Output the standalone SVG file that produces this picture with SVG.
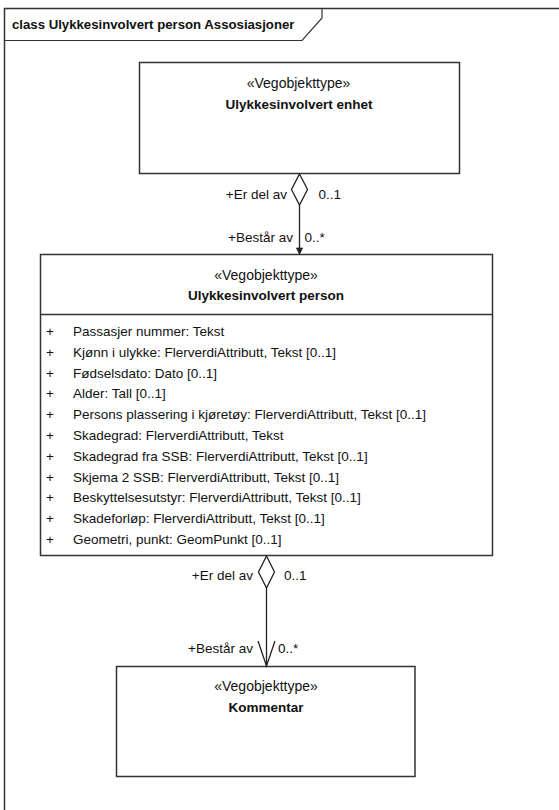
<svg xmlns="http://www.w3.org/2000/svg" width="559" height="810" viewBox="0 0 559 810">
<style>
text{font-family:"Liberation Sans",Arial,sans-serif;fill:#111}
.box{fill:#fff;stroke:#333;stroke-width:1.5}
.st{font-size:14px;text-anchor:middle}
.nm{font-size:13.5px;font-weight:bold;text-anchor:middle}
.at{font-size:13.5px}
.lbl{font-size:13.5px}
.end{text-anchor:end}
.ln{stroke:#222;stroke-width:1.3;fill:none}
.dia{fill:#fff;stroke:#222;stroke-width:1.3}
</style>
<rect width="559" height="810" fill="#fff"/>
<g id="frame">
<path d="M4.5 830 V8.5 H570" fill="none" stroke="#333" stroke-width="1.5"/>
<path d="M4.5 40.5 H302 L322 18 V8.5" fill="none" stroke="#333" stroke-width="1.2"/>
<text x="12" y="28.5" font-size="13.2" font-weight="bold">class Ulykkesinvolvert person Assosiasjoner</text>
</g>
<g id="node-enhet">
<rect class="box" x="139.5" y="62.5" width="320" height="111"/>
<text class="st" x="298.5" y="88">«Vegobjekttype»</text>
<text class="nm" x="299" y="108.5">Ulykkesinvolvert enhet</text>
</g>
<g id="node-person">
<rect class="box" x="40.5" y="254.5" width="452" height="301"/>
<line x1="40.5" y1="314.5" x2="492.5" y2="314.5" stroke="#333" stroke-width="1.5"/>
<text class="st" x="266" y="279.5">«Vegobjekttype»</text>
<text class="nm" x="266" y="300">Ulykkesinvolvert person</text>
<g class="at">
<text x="46" y="336">+</text><text x="73" y="336">Passasjer nummer: Tekst</text>
<text x="46" y="356.8">+</text><text x="73" y="356.8">Kjønn i ulykke: FlerverdiAttributt, Tekst [0..1]</text>
<text x="46" y="377.6">+</text><text x="73" y="377.6">Fødselsdato: Dato [0..1]</text>
<text x="46" y="398.4">+</text><text x="73" y="398.4">Alder: Tall [0..1]</text>
<text x="46" y="419.2">+</text><text x="73" y="419.2">Persons plassering i kjøretøy: FlerverdiAttributt, Tekst [0..1]</text>
<text x="46" y="440">+</text><text x="73" y="440">Skadegrad: FlerverdiAttributt, Tekst</text>
<text x="46" y="460.8">+</text><text x="73" y="460.8">Skadegrad fra SSB: FlerverdiAttributt, Tekst [0..1]</text>
<text x="46" y="481.6">+</text><text x="73" y="481.6">Skjema 2 SSB: FlerverdiAttributt, Tekst [0..1]</text>
<text x="46" y="502.4">+</text><text x="73" y="502.4">Beskyttelsesutstyr: FlerverdiAttributt, Tekst [0..1]</text>
<text x="46" y="523.2">+</text><text x="73" y="523.2">Skadeforløp: FlerverdiAttributt, Tekst [0..1]</text>
<text x="46" y="544">+</text><text x="73" y="544">Geometri, punkt: GeomPunkt [0..1]</text>
</g>
</g>
<g id="node-kommentar">
<rect class="box" x="116.5" y="666.5" width="298.5" height="110"/>
<text class="st" x="266" y="691">«Vegobjekttype»</text>
<text class="nm" x="266" y="712">Kommentar</text>
</g>
<g id="connectors">
<line class="ln" x1="299.5" y1="205" x2="299.5" y2="252"/>
<path class="dia" d="M299.5 174 L307.5 189.5 L299.5 205 L291.5 189.5 Z"/>
<path d="M296.5 248 L299.5 254.5 L302.5 248 Z" fill="#222" stroke="#222" stroke-width="0.8"/>
<text class="lbl end" x="287" y="198.5">+Er del av</text>
<text class="lbl" x="318.5" y="198.5">0..1</text>
<text class="lbl end" x="293" y="242">+Består av</text>
<text class="lbl" x="304.5" y="242">0..*</text>
<line class="ln" x1="266.5" y1="588" x2="266.5" y2="666"/>
<path class="dia" d="M266.5 556 L274.5 572 L266.5 588 L258.5 572 Z"/>
<path class="ln" d="M258 641 L266.5 666 L275 641"/>
<text class="lbl end" x="253" y="580">+Er del av</text>
<text class="lbl" x="284" y="580">0..1</text>
<text class="lbl end" x="253" y="652.5">+Består av</text>
<text class="lbl" x="278" y="652.5">0..*</text>
</g>
</svg>
